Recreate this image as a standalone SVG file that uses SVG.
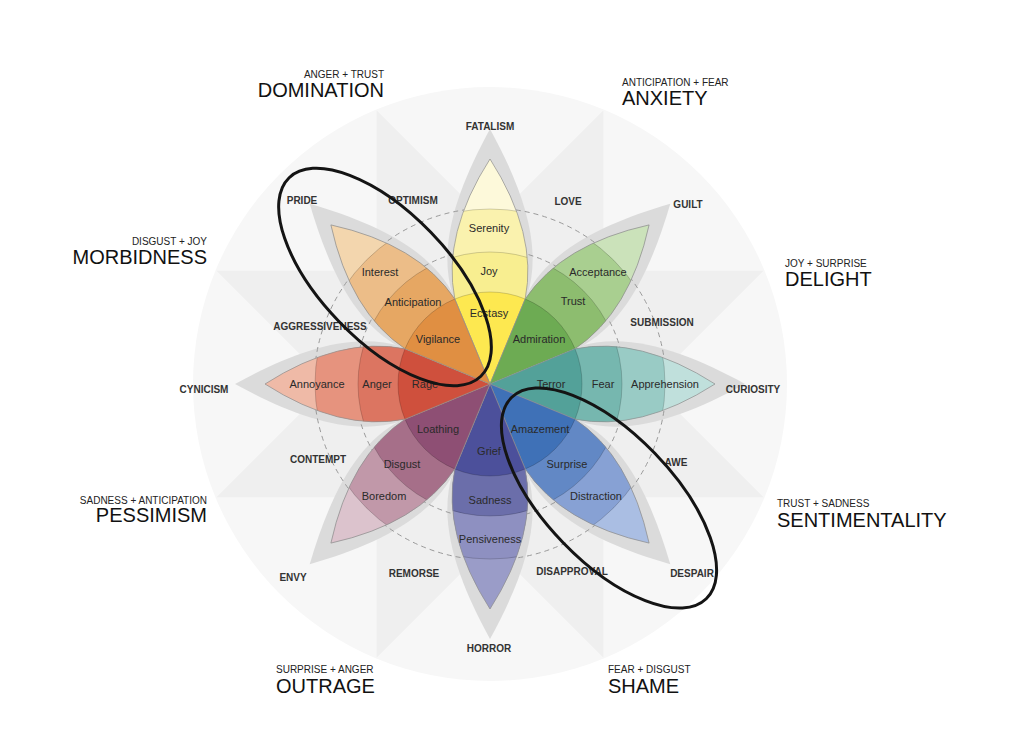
<svg xmlns="http://www.w3.org/2000/svg" xmlns:xlink="http://www.w3.org/1999/xlink" width="1024" height="753" viewBox="0 0 1024 753">
<style>
.halo{fill:#dbdbdb;}
.ring{stroke:#000;stroke-opacity:0.22;stroke-width:0.8;}
.outline{fill:none;stroke:#8c8c8c;stroke-width:0.7;}
.pl{font-family:"Liberation Sans",Arial,sans-serif;font-size:11px;fill:#2a2a2a;text-anchor:middle;}
.ol{font-family:"Liberation Sans",Arial,sans-serif;font-size:10px;font-weight:bold;fill:#333;text-anchor:middle;}
.sub{font-family:"Liberation Sans",Arial,sans-serif;font-size:10px;fill:#222;}
.big{font-family:"Liberation Sans",Arial,sans-serif;font-size:20px;fill:#111;}
.dash{fill:none;stroke:#9a9a9a;stroke-width:1;stroke-dasharray:5 4;}
.ell{fill:none;stroke:#141414;stroke-width:3;}
</style>
<defs>
<path id="petalShape" d="M490,384 L454.8,299 Q442,234 490,159 Q538,234 525.2,299 Z"/>
<path id="haloShape" d="M490,384 L453,296 C436,244 460,184 490,129 C520,184 544,244 527,296 Z"/>
<clipPath id="petalClip"><use xlink:href="#petalShape" href="#petalShape"/></clipPath>
</defs>
<rect width="1024" height="753" fill="#ffffff"/>
<g id="background">
<circle cx="490" cy="384" r="297" fill="#f7f7f7"/>
<path d="M603.3,110.5 L603.3,657.5 L216.5,270.7 L763.5,270.7 L376.7,657.5 L376.7,110.5 L763.5,497.3 L216.5,497.3 Z" fill="#efefef"/>
</g>
<g id="halos">
<use href="#haloShape" class="halo" transform="rotate(0 490 384)"/>
<use href="#haloShape" class="halo" transform="rotate(45 490 384)"/>
<use href="#haloShape" class="halo" transform="rotate(90 490 384)"/>
<use href="#haloShape" class="halo" transform="rotate(135 490 384)"/>
<use href="#haloShape" class="halo" transform="rotate(180 490 384)"/>
<use href="#haloShape" class="halo" transform="rotate(225 490 384)"/>
<use href="#haloShape" class="halo" transform="rotate(270 490 384)"/>
<use href="#haloShape" class="halo" transform="rotate(315 490 384)"/>
</g>
<g id="guides">
<circle cx="490" cy="384" r="135" class="dash"/>
<circle cx="490" cy="384" r="176" class="dash"/>
</g>
<g id="joy">
<g transform="rotate(0 490 384)"><g clip-path="url(#petalClip)">
<circle cx="490" cy="384" r="232" fill="#fdf9da"/>
<circle cx="490" cy="384" r="175" fill="#faf2ae" class="ring"/>
<circle cx="490" cy="384" r="132" fill="#f8ee90" class="ring"/>
<circle cx="490" cy="384" r="92" fill="#fde850" class="ring"/>
</g><use href="#petalShape" class="outline"/></g>
<text class="pl" x="489" y="232">Serenity</text>
<text class="pl" x="489" y="275">Joy</text>
<text class="pl" x="489" y="317">Ecstasy</text>
</g>
<g id="trust">
<g transform="rotate(45 490 384)"><g clip-path="url(#petalClip)">
<circle cx="490" cy="384" r="232" fill="#cbe2ba"/>
<circle cx="490" cy="384" r="175" fill="#a9cf90" class="ring"/>
<circle cx="490" cy="384" r="132" fill="#8dbd6f" class="ring"/>
<circle cx="490" cy="384" r="92" fill="#6dab53" class="ring"/>
</g><use href="#petalShape" class="outline"/></g>
<text class="pl" x="598" y="276">Acceptance</text>
<text class="pl" x="573" y="305">Trust</text>
<text class="pl" x="539" y="343">Admiration</text>
</g>
<g id="fear">
<g transform="rotate(90 490 384)"><g clip-path="url(#petalClip)">
<circle cx="490" cy="384" r="232" fill="#c0e0dc"/>
<circle cx="490" cy="384" r="175" fill="#99cbc5" class="ring"/>
<circle cx="490" cy="384" r="132" fill="#76b7af" class="ring"/>
<circle cx="490" cy="384" r="92" fill="#53a199" class="ring"/>
</g><use href="#petalShape" class="outline"/></g>
<text class="pl" x="665" y="388">Apprehension</text>
<text class="pl" x="603" y="388">Fear</text>
<text class="pl" x="551" y="388">Terror</text>
</g>
<g id="surprise">
<g transform="rotate(135 490 384)"><g clip-path="url(#petalClip)">
<circle cx="490" cy="384" r="232" fill="#aabee3"/>
<circle cx="490" cy="384" r="175" fill="#87a1d4" class="ring"/>
<circle cx="490" cy="384" r="132" fill="#6288c5" class="ring"/>
<circle cx="490" cy="384" r="92" fill="#3f71b7" class="ring"/>
</g><use href="#petalShape" class="outline"/></g>
<text class="pl" x="540" y="433">Amazement</text>
<text class="pl" x="567" y="468">Surprise</text>
<text class="pl" x="596" y="500">Distraction</text>
</g>
<g id="sadness">
<g transform="rotate(180 490 384)"><g clip-path="url(#petalClip)">
<circle cx="490" cy="384" r="232" fill="#9a9cc8"/>
<circle cx="490" cy="384" r="175" fill="#8e90c1" class="ring"/>
<circle cx="490" cy="384" r="132" fill="#6b6eaa" class="ring"/>
<circle cx="490" cy="384" r="92" fill="#4c509b" class="ring"/>
</g><use href="#petalShape" class="outline"/></g>
<text class="pl" x="489" y="455">Grief</text>
<text class="pl" x="490" y="504">Sadness</text>
<text class="pl" x="490" y="543">Pensiveness</text>
</g>
<g id="disgust">
<g transform="rotate(225 490 384)"><g clip-path="url(#petalClip)">
<circle cx="490" cy="384" r="232" fill="#dcc3cd"/>
<circle cx="490" cy="384" r="175" fill="#c198a9" class="ring"/>
<circle cx="490" cy="384" r="132" fill="#a66f89" class="ring"/>
<circle cx="490" cy="384" r="92" fill="#8e4f74" class="ring"/>
</g><use href="#petalShape" class="outline"/></g>
<text class="pl" x="438" y="433">Loathing</text>
<text class="pl" x="402" y="468">Disgust</text>
<text class="pl" x="384" y="500">Boredom</text>
</g>
<g id="anger">
<g transform="rotate(270 490 384)"><g clip-path="url(#petalClip)">
<circle cx="490" cy="384" r="232" fill="#efbaa7"/>
<circle cx="490" cy="384" r="175" fill="#e6937e" class="ring"/>
<circle cx="490" cy="384" r="132" fill="#dc7561" class="ring"/>
<circle cx="490" cy="384" r="92" fill="#cf503d" class="ring"/>
</g><use href="#petalShape" class="outline"/></g>
<text class="pl" x="317" y="388">Annoyance</text>
<text class="pl" x="377" y="388">Anger</text>
<text class="pl" x="425" y="388">Rage</text>
</g>
<g id="anticipation">
<g transform="rotate(315 490 384)"><g clip-path="url(#petalClip)">
<circle cx="490" cy="384" r="232" fill="#f3d6ae"/>
<circle cx="490" cy="384" r="175" fill="#ecbd88" class="ring"/>
<circle cx="490" cy="384" r="132" fill="#e6a763" class="ring"/>
<circle cx="490" cy="384" r="92" fill="#e08f42" class="ring"/>
</g><use href="#petalShape" class="outline"/></g>
<text class="pl" x="380" y="276">Interest</text>
<text class="pl" x="413" y="306">Anticipation</text>
<text class="pl" x="438" y="343">Vigilance</text>
</g>
<g id="outer-labels">
<text class="ol" x="490" y="130">FATALISM</text>
<text class="ol" x="413" y="204">OPTIMISM</text>
<text class="ol" x="302" y="204">PRIDE</text>
<text class="ol" x="568" y="205">LOVE</text>
<text class="ol" x="688" y="208">GUILT</text>
<text class="ol" x="662" y="326">SUBMISSION</text>
<text class="ol" x="753" y="393">CURIOSITY</text>
<text class="ol" x="676" y="466">AWE</text>
<text class="ol" x="692" y="577">DESPAIR</text>
<text class="ol" x="572" y="575">DISAPPROVAL</text>
<text class="ol" x="489" y="652">HORROR</text>
<text class="ol" x="414" y="577">REMORSE</text>
<text class="ol" x="293" y="581">ENVY</text>
<text class="ol" x="318" y="463">CONTEMPT</text>
<text class="ol" x="204" y="393">CYNICISM</text>
<text class="ol" x="320" y="330">AGGRESSIVENESS</text>
</g>
<g id="dyads">
<g id="domination"><text class="sub" x="384" y="78" text-anchor="end">ANGER + TRUST</text><text class="big" x="384" y="97" text-anchor="end">DOMINATION</text></g>
<g id="anxiety"><text class="sub" x="622" y="86">ANTICIPATION + FEAR</text><text class="big" x="622" y="105">ANXIETY</text></g>
<g id="delight"><text class="sub" x="785" y="267">JOY + SURPRISE</text><text class="big" x="785" y="286">DELIGHT</text></g>
<g id="sentimentality"><text class="sub" x="777" y="507">TRUST + SADNESS</text><text class="big" x="777" y="527">SENTIMENTALITY</text></g>
<g id="shame"><text class="sub" x="608" y="673">FEAR + DISGUST</text><text class="big" x="608" y="693">SHAME</text></g>
<g id="outrage"><text class="sub" x="276" y="673">SURPRISE + ANGER</text><text class="big" x="276" y="693">OUTRAGE</text></g>
<g id="pessimism"><text class="sub" x="207" y="504" text-anchor="end">SADNESS + ANTICIPATION</text><text class="big" x="207" y="522" text-anchor="end">PESSIMISM</text></g>
<g id="morbidness"><text class="sub" x="207" y="245" text-anchor="end">DISGUST + JOY</text><text class="big" x="207" y="264" text-anchor="end">MORBIDNESS</text></g>
</g>
<g id="connectors">
<ellipse class="ell" cx="385" cy="277" rx="138" ry="64" transform="rotate(46 385 277)"/>
<ellipse class="ell" cx="609" cy="498" rx="140" ry="64" transform="rotate(46 609 498)"/>
</g>
</svg>
